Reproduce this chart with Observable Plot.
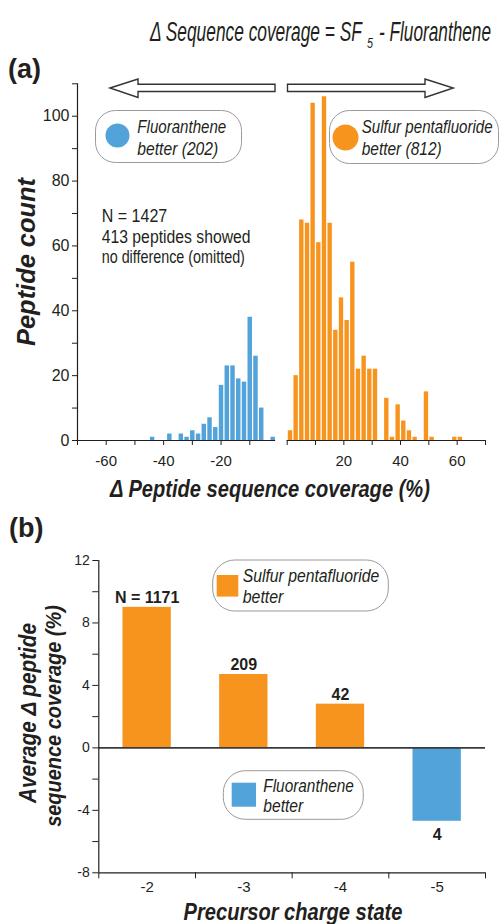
<!DOCTYPE html>
<html><head><meta charset="utf-8">
<script src="https://cdn.jsdelivr.net/npm/d3@7"></script>
<script src="https://cdn.jsdelivr.net/npm/@observablehq/plot@0.6"></script>
<style>
body{margin:0;background:#fff;}
#wrap{position:relative;width:500px;height:924px;overflow:hidden;}
#wrap svg{position:absolute;left:0;top:0;}
</style></head><body><div id="wrap"></div>
<script>
// ---------- data (panel a: histogram of Δ coverage, bins of 2 %) ----------
const binWidth = 2;
const blueBinLo = [-45,-43,-41,-39,-37,-35,-33,-31,-29,-27,-25,-23,-21,-19,-17,-15,-13,-11,-9,-7,-5,-3];
const blueCount = [1,0,0,2,0,2,1,3,2,5,7,4,17,23,23,19,18,38,26,10,0,1];
const orangeBinLo = [0,2,4,6,8,10,12,14,16,18,20,22,24,26,28,30,32,34,36,38,40,42,44,46,48,50,52,54,56,58,60];
const orangeCount = [3,20,68,67,104,61,106,67,34,44,37,55,22,26,22,22,0,13,1,11,6,3,1,0,15,1,0,0,0,1,1];
const yTicksA = [0,20,40,60,80,100];
const yMinorA = [10,30,50,70,90,110];
const xTicksLeft = [-70,-60,-50,-40,-30,-20,-10];
const xLabelsLeft = [-60,-40,-20];
const xTicksRight = [0,10,20,30,40,50,60,70];
const xLabelsRight = [20,40,60];

// ---------- data (panel b) ----------
const chargeStates = [-2,-3,-4,-5];
const avgDelta = [9.0,4.7,2.8,-4.7];
const countLabels = ["N = 1171","209","42","4"];
const yTicksB = [-8,-4,0,4,8,12];
const yMinorB = [-6,-2,2,6,10];
const bandEdges = [-1.5,-2.5,-3.5,-4.5,-5.5];

// ---------- styling ----------
const FONT = '"Liberation Sans",Arial,sans-serif';
const INK = "#231f20";
const ORANGE = "#F7941E", BLUE = "#51A3DA";
const svgStyle = `background:transparent;font-family:${FONT};color:${INK};position:absolute;left:0;top:0;overflow:visible;`;
const wrap = document.getElementById("wrap");

const blueRows = blueBinLo.map((lo,i)=>({lo, n: blueCount[i]})).filter(d=>d.n>0);
const orangeRows = orangeBinLo.map((lo,i)=>({lo, n: orangeCount[i]})).filter(d=>d.n>0);

// panel a, left half (negative values)
const aLeft = Plot.plot({
  width:500, height:924, style: svgStyle,
  marginLeft:77, marginRight:222, marginTop:83.3, marginBottom:484,
  x:{domain:[-70,0]}, y:{domain:[0,110]},
  marks:[
    Plot.rectY(blueRows,{x1:"lo", x2:d=>d.lo+binWidth, y:"n", fill:BLUE, insetLeft:1.1, insetRight:0.2}),
    Plot.ruleX([-70],{y1:0,y2:110,stroke:INK,strokeWidth:1.2}),
    Plot.ruleY([0],{x1:-70,x2:-1,stroke:INK,strokeWidth:1.2}),
    Plot.axisY(yTicksA,{tickSize:5,tickPadding:3,fontSize:16,tickFormat:d=>String(d),label:null}),
    Plot.axisY(yMinorA,{tickSize:5,tickFormat:()=>"",label:null}),
    Plot.axisX(xTicksLeft,{tickSize:5,tickPadding:10,fontSize:15,tickFormat:d=>xLabelsLeft.includes(d)?String(d):"",label:null})
  ]
});
wrap.appendChild(aLeft);

// panel a, right half (positive values)
const aRight = Plot.plot({
  width:500, height:924, style: svgStyle,
  marginLeft:286.7, marginRight:15, marginTop:83.3, marginBottom:484,
  x:{domain:[0,70]}, y:{domain:[0,110]},
  marks:[
    Plot.rectY(orangeRows,{x1:"lo", x2:d=>d.lo+binWidth, y:"n", fill:ORANGE, insetLeft:1.1, insetRight:0.2}),
    Plot.ruleY([0],{stroke:INK,strokeWidth:1.2}),
    Plot.axisX(xTicksRight,{tickSize:5,tickPadding:10,fontSize:15,tickFormat:d=>xLabelsRight.includes(d)?String(d):"",label:null}),
    Plot.axisY([],{label:null})
  ]
});
wrap.appendChild(aRight);

// panel b
const bRows = chargeStates.map((c,i)=>({c, v: avgDelta[i], label: countLabels[i]}));
const halfBar = 0.25;
const b = Plot.plot({
  width:500, height:924, style: svgStyle,
  marginLeft:98.3, marginRight:15, marginTop:560, marginBottom:51.7,
  x:{domain:[-1.5,-5.5]}, y:{domain:[-8,12]},
  marks:[
    Plot.rectY(bRows,{x1:d=>d.c+halfBar, x2:d=>d.c-halfBar, y:"v", fill:d=>d.v>=0?ORANGE:BLUE}),
    Plot.ruleY([0],{stroke:"#3a3a3a",strokeWidth:1.6}),
    Plot.ruleX([-1.5],{y1:-8,y2:12,stroke:INK,strokeWidth:1.2}),
    Plot.ruleY([-8],{stroke:INK,strokeWidth:1.2}),
    Plot.axisY(yTicksB,{tickSize:6,tickPadding:3,fontSize:14,tickFormat:d=>String(d),label:null}),
    Plot.axisY(yMinorB,{tickSize:6,tickFormat:()=>"",label:null}),
    Plot.axisX(bandEdges,{tickSize:6,tickFormat:()=>"",label:null}),
    Plot.axisX(chargeStates,{tickSize:0,tickPadding:9,fontSize:15,tickFormat:d=>String(d),label:null}),
    Plot.text(bRows.filter(d=>d.v>=0),{x:"c",y:"v",text:"label",dy:-4,lineAnchor:"bottom",fontWeight:"bold",fontSize:16,fill:INK}),
    Plot.text(bRows.filter(d=>d.v<0),{x:"c",y:"v",text:"label",dy:7,lineAnchor:"top",fontWeight:"bold",fontSize:16,fill:INK})
  ]
});
wrap.appendChild(b);

// ---------- annotations overlay ----------
const ov = d3.select(wrap).append("svg").attr("width",500).attr("height",924)
  .style("font-family",FONT).style("color",INK);

// condensed text: natural glyphs scaled horizontally to the width
function txt(x,y,s,o){
  const t = ov.append("text").attr("x",0).attr("y",0).attr("fill",INK)
    .attr("font-size",o.size).attr("font-style",o.italic?"italic":"normal")
    .attr("font-weight",o.bold?"bold":"normal").attr("text-anchor",o.anchor||"start").text(s);
  let sx = 1;
  if(o.len){ const nat = t.node().getComputedTextLength(); if(nat>0) sx = o.len/nat; }
  const rot = o.rotate ? ` rotate(${o.rotate})` : "";
  t.attr("transform",`translate(${x},${y})${rot} scale(${sx},1)`);
  return t;
}

// title
txt(150,41,"Δ Sequence coverage = SF",{size:28,italic:true,len:212});
txt(367,48,"5",{size:15,italic:true,len:6});
txt(379,41,"- Fluoranthene",{size:28,italic:true,len:112});

// panel letters
txt(8,78,"(a)",{size:27,bold:true});
txt(9,537,"(b)",{size:27,bold:true});

// arrows
const arrowStyle = s => s.attr("fill","#fff").attr("stroke","#333").attr("stroke-width",1.4).attr("stroke-linejoin","miter");
arrowStyle(ov.append("polygon").attr("points","110,88 138,79 138,84.3 275,84.3 275,91.5 138,91.5 138,97.5"));
arrowStyle(ov.append("polygon").attr("points","287.5,84.3 425,84.3 425,79 453.3,88 425,97.5 425,91.5 287.5,91.5"));

function box(x,y,w,h,r){ov.append("rect").attr("x",x).attr("y",y).attr("width",w).attr("height",h).attr("rx",r)
  .attr("fill","#fff").attr("stroke","#9a9a9a").attr("stroke-width",1);}

// legend boxes panel a
box(95.5,110.5,146,52,20);
ov.append("circle").attr("cx",117.5).attr("cy",135.5).attr("r",12).attr("fill",BLUE);
txt(137.3,133,"Fluoranthene",{size:19,italic:true,len:89});
txt(137.3,155,"better (202)",{size:19,italic:true,len:81});

box(329.5,110.5,169,53,20);
ov.append("circle").attr("cx",345.5).attr("cy",137.5).attr("r",13).attr("fill",ORANGE);
txt(361.7,133,"Sulfur pentafluoride",{size:19,italic:true,len:131});
txt(361.7,155,"better (812)",{size:19,italic:true,len:80});

// note
txt(101.7,221.5,"N = 1427",{size:18,len:65.6});
txt(101.7,242.5,"413 peptides showed",{size:18,len:149});
txt(101.7,263,"no difference (omitted)",{size:18,len:143.3});

// axis titles panel a
txt(35,262,"Peptide count",{size:25,bold:true,italic:true,anchor:"middle",len:168,rotate:-90});
txt(270,497,"Δ Peptide sequence coverage (%)",{size:24,bold:true,italic:true,anchor:"middle",len:320});

// legend boxes panel b
box(212.7,560,175.6,51,22);
ov.append("rect").attr("x",216.7).attr("y",575).attr("width",21.6).attr("height",21.6).attr("fill",ORANGE);
txt(242.7,581.7,"Sulfur pentafluoride",{size:19,italic:true,len:136.7});
txt(242.7,603.3,"better",{size:19,italic:true,len:40.7});
box(223.3,770.7,140,48.6,22);
ov.append("rect").attr("x",231.7).attr("y",782.7).attr("width",24.3).attr("height",24).attr("fill",BLUE);
txt(263.3,791.7,"Fluoranthene",{size:19,italic:true,len:90.7});
txt(263.3,811.7,"better",{size:19,italic:true,len:40});

// axis titles panel b
txt(36,713,"Average Δ peptide",{size:23,bold:true,italic:true,anchor:"middle",len:180,rotate:-90});
txt(61,716,"sequence coverage (%)",{size:23,bold:true,italic:true,anchor:"middle",len:222,rotate:-90});
txt(293,920,"Precursor charge state",{size:24,bold:true,italic:true,anchor:"middle",len:219});
</script></body></html>
